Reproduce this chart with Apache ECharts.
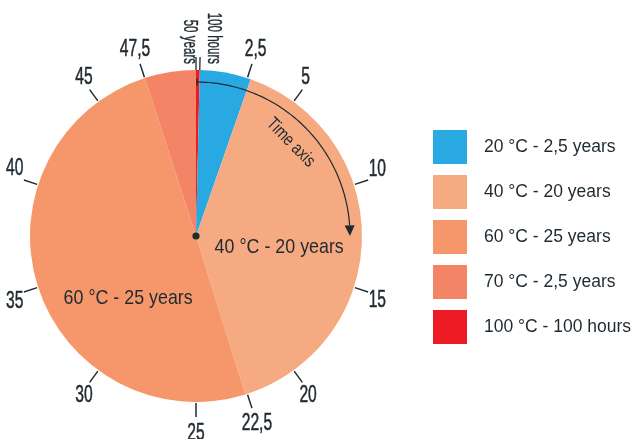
<!DOCTYPE html>
<html>
<head>
<meta charset="utf-8">
<script src="https://cdn.jsdelivr.net/npm/echarts@6/dist/echarts.min.js"></script>
<style>
  html, body { margin: 0; padding: 0; background: #ffffff; }
  #chart { width: 634px; height: 439px; }
</style>
</head>
<body>
<div id="chart"></div>
<script>
// Service-life phases: temperature band and time spent in it (years)
const phaseNames = ['100 °C - 100 hours', '20 °C - 2,5 years', '40 °C - 20 years', '60 °C - 25 years', '70 °C - 2,5 years'];
const phaseYears = [100 / 8760, 2.5, 20, 25, 2.5];
const phaseColors = ['#ed1c24', '#29a9e1', '#f6aa81', '#f5976b', '#f38566'];
const legendOrder = ['20 °C - 2,5 years', '40 °C - 20 years', '60 °C - 25 years', '70 °C - 2,5 years', '100 °C - 100 hours'];

// Ticks along the time dial (years)
const tickValues = [2.5, 5, 10, 15, 20, 22.5, 25, 30, 35, 40, 45, 47.5];
const tickLabels = ['2,5', '5', '10', '15', '20', '22,5', '25', '30', '35', '40', '45', '47,5'];
const topLabels = ['50 years', '100 hours'];

// Labels written inside the two large phases
const sliceLabels = ['40 °C - 20 years', '60 °C - 25 years'];

const TOTAL_YEARS = 50;
const INK = '#1f2a30';
const FONT = '"Liberation Sans", Arial, sans-serif';
const CENTER = [196, 236];
const RADIUS = 166;
const RED_MIN_ANGLE = 1.3;                         // keeps the 100-hour phase visible
const RED_END = RED_MIN_ANGLE / 360 * TOTAL_YEARS; // where that sliver ends on the dial

const TICK_FONT_SIZE = 23;
const TICK_SCALE_X = 0.68;
// Side numbers sit a little away from the horizontal diameter
const SIDE_NUDGE = { '10': -7, '40': -8, '15': 3, '35': 4 };

// Measures a tick label so it can be pushed clear of the rim by its own half-width
const measureCtx = document.createElement('canvas').getContext('2d');
measureCtx.font = TICK_FONT_SIZE + 'px ' + FONT;
function halfWidth(text) {
  return measureCtx.measureText(text).width * TICK_SCALE_X / 2;
}

const chart = echarts.init(document.getElementById('chart'), null, { renderer: 'canvas' });

function line(p, q, w) {
  return { type: 'line', shape: { x1: p[0], y1: p[1], x2: q[0], y2: q[1] }, style: { stroke: INK, lineWidth: w } };
}

// Tick marks and their numbers around the rim
function renderTick(params, api) {
  const i = params.dataIndex;
  const v = tickValues[i];
  const label = tickLabels[i];
  const a = api.coord([167, v]);
  const b = api.coord([181, v]);
  const c = api.coord([0, 0]);
  const th = v / TOTAL_YEARS * Math.PI * 2;
  const hw = halfWidth(label) - 1;
  const x = c[0] + Math.sin(th) * (183 + hw);
  const y = c[1] - Math.cos(th) * (188 + 8.5) + (SIDE_NUDGE[label] || 0);
  return {
    type: 'group',
    children: [
      line(a, b, 1.5),
      {
        type: 'text', x: x, y: y + 1, scaleX: TICK_SCALE_X,
        style: {
          text: label, fill: INK, stroke: INK, lineWidth: 0.5,
          fontFamily: FONT, fontSize: TICK_FONT_SIZE, align: 'center', verticalAlign: 'middle'
        }
      }
    ]
  };
}

// The two vertical labels where the dial starts and ends
function renderTop(params, api) {
  const values = [TOTAL_YEARS, RED_END];
  const shifts = [-6, 14];
  const v = values[params.dataIndex];
  const a = api.coord([166, v]);
  const b = api.coord([179, v]);
  return {
    type: 'group',
    children: [
      line(a, b, 1.3),
      {
        type: 'text', x: b[0] + shifts[params.dataIndex], y: b[1] + 7, rotation: -Math.PI / 2, scaleX: 0.55,
        style: {
          text: topLabels[params.dataIndex], fill: INK, stroke: INK, lineWidth: 0.4,
          fontFamily: FONT, fontSize: 21, align: 'right', verticalAlign: 'middle'
        }
      }
    ]
  };
}

// Curved "Time axis" arrow, centre dot and phase captions
function renderGuide(params, api) {
  const R = 154, start = 0.05, end = 11.95, tipV = 12.5;
  const pts = [];
  for (let i = 0; i <= 80; i++) pts.push(api.coord([R, start + (end - start) * i / 80]));
  const base = api.coord([R, end]);
  const tip = api.coord([R, tipV]);
  const dx = tip[0] - base[0], dy = tip[1] - base[1];
  const len = Math.hypot(dx, dy);
  const nx = -dy / len * 5, ny = dx / len * 5;
  const textV = 6.3;
  const tp = api.coord([133, textV]);
  const c = api.coord([0, 0]);
  const l1 = api.coord([84, 13.6]);
  const l2 = api.coord([92, 31.6]);
  return {
    type: 'group',
    children: [
      { type: 'polyline', shape: { points: pts }, style: { stroke: INK, lineWidth: 1.2, fill: null } },
      { type: 'polygon', shape: { points: [[base[0] + nx, base[1] + ny], [base[0] - nx, base[1] - ny], tip] }, style: { fill: INK } },
      line(api.coord([R - 3.5, start]), api.coord([R + 3.5, start]), 1.3),
      {
        type: 'text', x: tp[0], y: tp[1], rotation: -textV / TOTAL_YEARS * Math.PI * 2, scaleX: 0.8,
        style: { text: 'Time axis', fill: INK, fontFamily: FONT, fontSize: 18, align: 'center', verticalAlign: 'middle' }
      },
      { type: 'circle', shape: { cx: c[0], cy: c[1], r: 3.6 }, style: { fill: INK } },
      {
        type: 'text', x: l1[0], y: l1[1], scaleX: 0.85,
        style: { text: sliceLabels[0], fill: INK, fontFamily: FONT, fontSize: 21, align: 'center', verticalAlign: 'middle' }
      },
      {
        type: 'text', x: l2[0], y: l2[1], scaleX: 0.85,
        style: { text: sliceLabels[1], fill: INK, fontFamily: FONT, fontSize: 21, align: 'center', verticalAlign: 'middle' }
      }
    ]
  };
}

chart.setOption({
  animation: false,
  backgroundColor: '#ffffff',
  polar: { center: CENTER, radius: [0, RADIUS] },
  angleAxis: {
    type: 'value', min: 0, max: TOTAL_YEARS, startAngle: 90, clockwise: true,
    axisLine: { show: false }, axisTick: { show: false }, axisLabel: { show: false }, splitLine: { show: false }
  },
  radiusAxis: {
    type: 'value', min: 0, max: RADIUS,
    axisLine: { show: false }, axisTick: { show: false }, axisLabel: { show: false }, splitLine: { show: false }
  },
  legend: {
    data: legendOrder,
    orient: 'vertical',
    left: 433, top: 130,
    padding: 0,
    icon: 'rect',
    itemWidth: 34, itemHeight: 34, itemGap: 11,
    selectedMode: false,
    textStyle: { color: INK, fontFamily: FONT, fontSize: 17.5, padding: [0, 0, 0, 12] }
  },
  series: [
    {
      type: 'pie',
      center: CENTER,
      radius: [0, RADIUS],
      startAngle: 90,
      clockwise: true,
      minAngle: RED_MIN_ANGLE,
      silent: true,
      label: { show: false },
      labelLine: { show: false },
      z: 1,
      data: phaseNames.map((name, i) => ({ name, value: phaseYears[i], itemStyle: { color: phaseColors[i] } }))
    },
    { type: 'custom', coordinateSystem: 'polar', silent: true, z: 5, renderItem: renderTick, data: tickValues.map(v => [0, v]) },
    { type: 'custom', coordinateSystem: 'polar', silent: true, z: 5, renderItem: renderTop, data: [[0, TOTAL_YEARS], [0, RED_END]] },
    { type: 'custom', coordinateSystem: 'polar', silent: true, z: 6, renderItem: renderGuide, data: [[0, 0]] }
  ]
});
</script>
</body>
</html>
